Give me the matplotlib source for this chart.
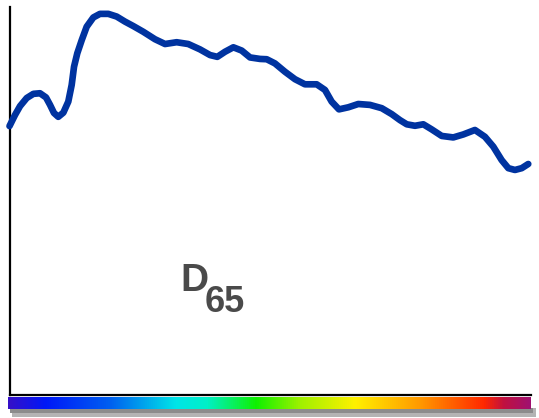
import matplotlib
matplotlib.use("Agg")
import matplotlib.pyplot as plt
import numpy as np
from matplotlib.colors import LinearSegmentedColormap
from matplotlib.patches import Rectangle

# Data: relative spectral power of D65
wavelength = [380, 384.2, 388.1, 393.2, 398.3, 403.4, 408.0, 411.1, 414.1, 417.4, 421.3,
              425.1, 427.7, 429.5, 432.0, 435.4, 439.2, 444.3, 449.4, 455.8, 462.2, 468.6,
              475.0, 482.6, 491.6, 499.3, 508.2, 517.1, 526.1, 533.8, 539.4, 545.3, 551.7,
              558.1, 564.5, 572.2, 577.3, 583.6, 591.3, 599.0, 606.6, 615.6, 622.0, 627.1,
              632.7, 639.9, 647.5, 656.5, 665.5, 673.2, 679.5, 684.7, 691.0, 697.4, 703.8,
              711.5, 720.4, 728.1, 737.0, 744.7, 751.1, 757.5, 762.6, 767.7, 772.9, 777.9]
power = [90.1, 93.8, 96.8, 99.5, 100.9, 101.1, 99.7, 97.2, 94.5, 93.2, 94.6,
         98.3, 103.9, 110.0, 114.5, 118.9, 123.4, 126.5, 127.7, 127.7, 126.8, 125.1,
         123.6, 121.7, 119.2, 117.6, 118.2, 117.6, 115.8, 113.9, 113.3, 115.0, 116.5,
         115.4, 113.1, 112.6, 112.5, 111.1, 108.3, 105.8, 104.1, 104.1, 102.2, 98.3,
         95.7, 96.4, 97.5, 97.2, 96.1, 94.1, 92.1, 90.7, 90.2, 90.7, 89.0,
         86.8, 86.3, 87.3, 88.8, 86.5, 83.2, 78.7, 76.0, 75.4, 76.0, 77.4]

# Spectrum bar colour stops
spec_pos = [0.0, 0.07, 0.195, 0.32, 0.38, 0.475, 0.56, 0.665, 0.71, 0.79, 0.912, 0.95, 1.0]
spec_col = ["#3510C8", "#0018F8", "#0060F0", "#00E5E8", "#00F0C8", "#10F000", "#A0F000",
            "#FFF000", "#FFD000", "#FF9800", "#FF2800", "#C01040", "#A01070"]

W, H = 539, 418
fig = plt.figure(figsize=(W / 100, H / 100), dpi=100)
fig.patch.set_facecolor("white")

def fbox(x0, y0, x1, y1):
    return [x0 / W, 1 - y1 / H, (x1 - x0) / W, (y1 - y0) / H]

# shadow under spectrum bar
fig.patches.append(Rectangle((12 / W, 1 - 417 / H), (536 - 12) / W, (417 - 408) / H,
                             transform=fig.transFigure, facecolor="#b4b4b4",
                             edgecolor="none", zorder=-2))
fig.patches.append(Rectangle((10 / W, 1 - 413 / H), (533 - 10) / W, (413 - 408) / H,
                             transform=fig.transFigure, facecolor="#8c8c8c",
                             edgecolor="none", zorder=-1))

ax = fig.add_axes(fbox(9.5, 7, 531, 395))
ax.plot(wavelength, power, color="#0033A0", lw=4.8, solid_joinstyle="round",
        solid_capstyle="round", clip_on=False, zorder=3)
ax.set_xlim(380, 780)
ax.set_ylim(0, 130)
ax.set_xticks([])
ax.set_yticks([])
for s in ["top", "right"]:
    ax.spines[s].set_visible(False)
for s in ["left", "bottom"]:
    ax.spines[s].set_linewidth(1.6)
    ax.spines[s].set_color("black")
ax.patch.set_alpha(0)

ax.text(0.327, 0.268, "D", transform=ax.transAxes, fontsize=28, fontweight="bold",
        color="#4a4a4a", family="Liberation Sans", ha="left", va="baseline")
ax.text(0.375, 0.214, "65", transform=ax.transAxes, fontsize=26, fontweight="bold",
        color="#4a4a4a", family="Liberation Sans", ha="left", va="baseline")

cmap = LinearSegmentedColormap.from_list("spec", list(zip(spec_pos, spec_col)))
bax = fig.add_axes(fbox(8, 397, 531, 409))
bax.imshow(np.linspace(0, 1, 512)[None, :], aspect="auto", cmap=cmap,
           extent=[0, 1, 0, 1])
bax.set_axis_off()
bax.set_zorder(2)

fig.savefig("out.png", dpi=100, facecolor="white")
